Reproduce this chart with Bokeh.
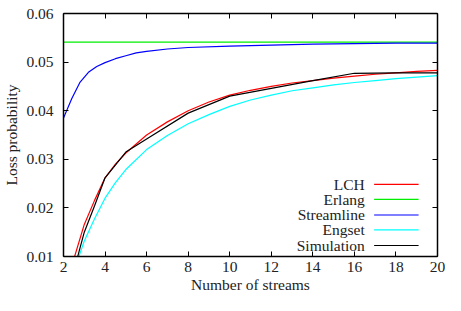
from bokeh.plotting import figure
from bokeh.models import Range1d, FixedTicker, PrintfTickFormatter, LinearAxis, Label, Arrow
from bokeh.embed import file_html
from bokeh.resources import INLINE

# ---- data ----
x_lch = [2.5, 3, 3.5, 4, 4.5, 5, 6, 7, 8, 9, 10, 11, 12, 13, 14, 15, 16, 17, 18, 19, 20]
lch = [0.0095, 0.0166, 0.0216, 0.0262, 0.0290, 0.0313, 0.0350, 0.0377, 0.0400, 0.0418, 0.0432,
       0.0442, 0.0450, 0.0457, 0.0462, 0.0467, 0.0471, 0.0475, 0.0478, 0.0481, 0.0483]

x_erl = [2, 20]
erlang = [0.0541, 0.0541]

x_str = [2, 2.4, 2.8, 3.2, 3.6, 4, 4.5, 5, 5.5, 6, 7, 8, 10, 12, 14, 16, 18, 20]
stream = [0.0385, 0.0425, 0.0459, 0.0479, 0.0491, 0.0499, 0.0507, 0.0513, 0.0519, 0.0522,
          0.0527, 0.0530, 0.0533, 0.0535, 0.0537, 0.0538, 0.0539, 0.0539]

x_eng = [2.5, 3, 3.5, 4, 4.5, 5, 6, 7, 8, 9, 10, 11, 12, 13, 14, 15, 16, 17, 18, 19, 20]
engset = [0.0070, 0.0132, 0.0178, 0.0220, 0.0252, 0.0279, 0.0320, 0.0349, 0.0373, 0.0392, 0.0409,
          0.0422, 0.0432, 0.0441, 0.0447, 0.0453, 0.0458, 0.0462, 0.0466, 0.0469, 0.0472]

x_sim = [2.5, 3, 3.5, 4, 5, 6, 8, 10, 12, 14, 16, 18, 20]
sim = [0.0071, 0.0150, 0.0205, 0.0262, 0.0315, 0.0342, 0.0395, 0.0430, 0.0446, 0.0462,
       0.0477, 0.0478, 0.0478]

x_ticks = [2, 4, 6, 8, 10, 12, 14, 16, 18, 20]
y_ticks = [0.01, 0.02, 0.03, 0.04, 0.05, 0.06]

series = [
    ("LCH", x_lch, lch, "#ff0000"),
    ("Erlang", x_erl, erlang, "#00ee00"),
    ("Streamline", x_str, stream, "#0000ff"),
    ("Engset", x_eng, engset, "#00ffff"),
    ("Simulation", x_sim, sim, "#000000"),
]

FONT = "Liberation Serif"
FS = "15.5px"

p = figure(width=445, height=295, output_backend="svg", toolbar_location=None,
           x_range=Range1d(2, 20), y_range=Range1d(0.01, 0.06),
           min_border_top=13, min_border_right=8, min_border_left=10, min_border_bottom=0)
p.outline_line_color = None
p.grid.visible = False
p.background_fill_color = "white"
p.border_fill_color = "white"

for name, xs, ys, c in series:
    p.line(xs, ys, line_color=c, line_width=1.2)

def style_axis(ax, ticks, show_labels):
    ax.ticker = FixedTicker(ticks=ticks)
    ax.axis_line_color = "black"
    ax.axis_line_width = 1.5
    ax.major_tick_line_color = "black"
    ax.major_tick_line_width = 1
    ax.major_tick_in = 5
    ax.major_tick_out = 0
    ax.minor_tick_line_color = None
    if show_labels:
        ax.major_label_text_font = FONT
        ax.major_label_text_font_size = FS
        ax.major_label_text_color = "#222222"
        ax.axis_label_text_font = FONT
        ax.axis_label_text_font_size = FS
        ax.axis_label_text_font_style = "normal"
        ax.axis_label_text_color = "#222222"
    else:
        ax.major_label_text_color = None
        ax.major_label_text_font_size = "1px"
        ax.major_label_standoff = 0
        ax.axis_label = None

xa = p.xaxis[0]
ya = p.yaxis[0]
style_axis(xa, x_ticks, True)
style_axis(ya, y_ticks, True)
xa.axis_label = "Number of streams"
ya.axis_label = "Loss probability"
xa.major_label_standoff = 5
xa.axis_label_standoff = 1
ya.major_label_standoff = 10
ya.axis_label_standoff = 3
ya.formatter = PrintfTickFormatter(format="%.2f")

top = LinearAxis()
style_axis(top, x_ticks, False)
p.add_layout(top, "above")
right = LinearAxis()
style_axis(right, y_ticks, False)
p.add_layout(right, "right")

# legend (gnuplot style: label, then sample)
leg_text_x = 16.5
leg_line_x0 = 16.95
leg_line_x1 = 19.09
leg_rows = [0.02486, 0.02174, 0.01854, 0.01546, 0.01226]
for (name, xs, ys, c), yr in zip(series, leg_rows):
    p.add_layout(Label(x=leg_text_x, y=yr, text=name, text_align="right",
                       text_baseline="middle", text_font=FONT, text_font_size=FS,
                       text_color="#222222"))
    p.add_layout(Arrow(end=None, x_start=leg_line_x0, y_start=yr, x_end=leg_line_x1, y_end=yr,
                       line_color=c, line_width=1.2))

open("out.html", "w").write(file_html(p, INLINE))
